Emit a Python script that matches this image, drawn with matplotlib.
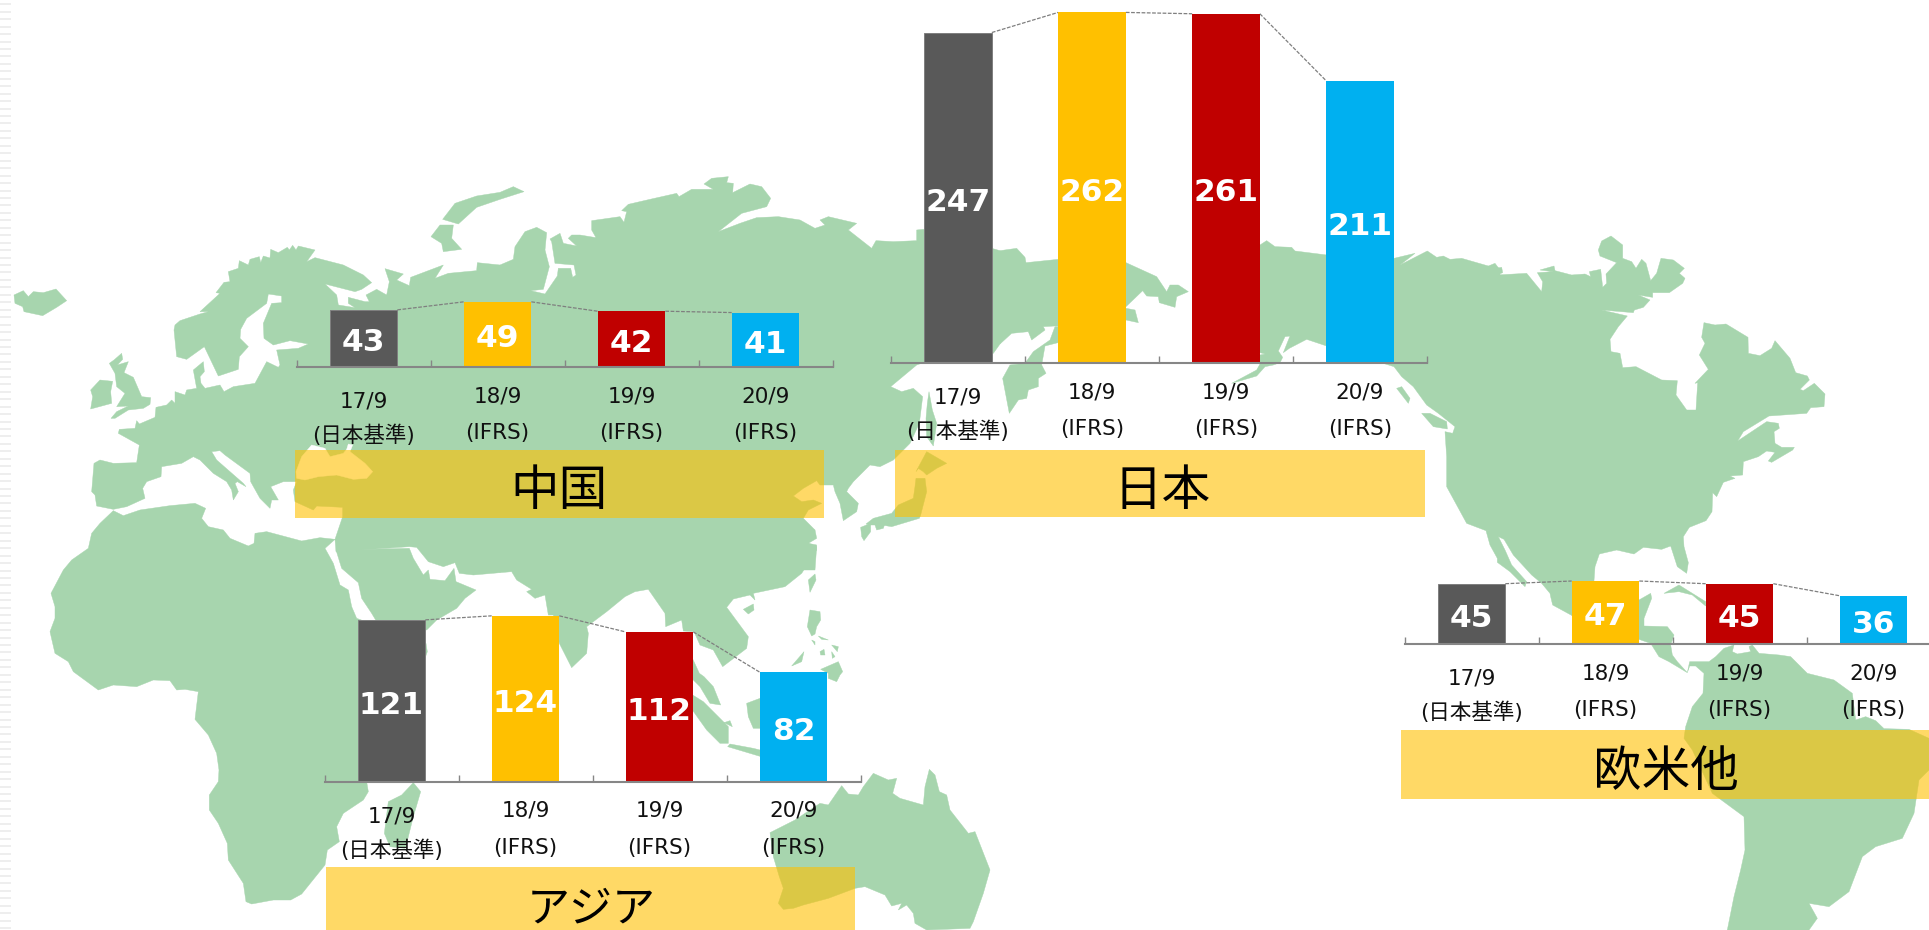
import matplotlib
matplotlib.use('Agg')
import matplotlib.pyplot as plt
import numpy as np
from matplotlib.patches import Rectangle

W, H = 1929, 930
LAND = '#A7D5AE'
BOX = (1.0, 0.753, 0.0, 0.6)
JP_FONT = ['DejaVu Sans', 'Noto Sans CJK JP']

# data
periods = ['17/9', '18/9', '19/9', '20/9']
standards = ['(日本基準)', '(IFRS)', '(IFRS)', '(IFRS)']
bar_colors = ['#595959', '#FFC000', '#C00000', '#00B0F0']

japan_values = [247, 262, 261, 211]
china_values = [43, 49, 42, 41]
asia_values = [121, 124, 112, 82]
other_values = [45, 47, 45, 36]

europe_south = [(522, 480), (530, 560), (560, 568), (613, 530), (655, 618), (715, 598), (718, 560), (745, 530),
                (720, 505), (722, 478), (740, 445), (800, 400), (805, 372), (845, 378), (845, 398), (815, 400),
                (790, 460), (792, 505), (820, 525), (870, 512), (925, 522), (895, 535), (830, 540), (840, 585),
                (835, 592), (800, 575), (765, 640), (700, 650), (672, 665), (660, 645), (615, 655), (603, 640),
                (600, 620), (613, 605), (610, 575), (580, 600), (590, 655), (560, 660), (555, 675), (525, 665),
                (525, 700), (515, 690), (500, 705), (468, 712), (465, 742), (418, 762), (410, 752), (405, 775),
                (358, 778), (355, 790), (418, 825), (410, 878), (340, 880), (300, 870), (282, 880), (275, 965),
                (285, 975), (290, 1008), (340, 1018), (380, 1010), (435, 985), (428, 955), (440, 935), (483, 920),
                (485, 890), (515, 885), (545, 880), (580, 860), (600, 870), (640, 910), (680, 935), (695, 960),
                (700, 990), (715, 965), (705, 940), (712, 935), (738, 950), (730, 940), (690, 905), (650, 870),
                (635, 845), (660, 842), (675, 855), (750, 910), (752, 935), (780, 985), (810, 1015), (815, 990),
                (835, 990), (812, 950), (850, 935), (890, 935), (880, 960), (885, 995), (940, 1020), (950, 1008),
                (1028, 1012), (1028, 1040), (1005, 1108), (1008, 1145), (1228, 1130), (1250, 1132), (1285, 1175),
                (1330, 1190), (1365, 1178), (1378, 1210), (1420, 1215), (1500, 1208)]
europe_north = [(525, 465), (540, 452), (600, 432), (625, 425), (600, 425), (660, 370), (648, 368), (672, 337),
                (690, 335), (685, 305), (715, 295), (718, 272), (745, 285), (750, 268), (778, 260), (782, 278),
                (790, 258), (810, 264), (812, 238), (835, 248), (862, 232), (868, 240), (878, 226), (888, 240),
                (895, 228), (945, 240), (920, 275), (945, 263), (1030, 285), (1090, 315), (1115, 338), (1085, 358),
                (1065, 365), (975, 342), (1010, 375), (1015, 405), (1065, 413), (1045, 400), (1045, 382), (1095, 395),
                (1108, 395), (1098, 375), (1130, 358), (1160, 375), (1168, 335), (1155, 296), (1210, 312), (1190, 330),
                (1228, 347), (1232, 322), (1330, 285), (1305, 325), (1345, 310), (1430, 302), (1432, 278), (1500, 285)]
black_sea = [(888, 905), (905, 860), (935, 825), (975, 835), (990, 860), (1030, 850), (1040, 838), (1045, 822),
             (1058, 825), (1050, 845), (1095, 880), (1118, 905), (1100, 925), (1060, 928), (1010, 915), (955, 920),
             (915, 930), (890, 925)]
crop_a = [
    [(42, 375), (70, 362), (85, 380), (100, 365), (130, 368), (168, 357), (200, 392), (170, 412), (128, 437),
     (72, 425), (68, 410), (45, 400)],
    [(342, 570), (365, 550), (368, 568), (352, 585), (385, 575), (372, 608), (400, 622), (425, 680), (452, 683),
     (450, 703), (430, 715), (385, 720), (345, 745), (333, 745), (350, 725), (385, 708), (350, 710), (375, 670),
     (350, 650), (345, 610), (328, 580)],
    [(272, 660), (300, 630), (338, 634), (332, 665), (335, 700), (272, 717), (278, 680)],
    [(1293, 200), (1320, 165), (1360, 165), (1355, 205), (1385, 238), (1330, 245), (1325, 220)],
    [(1328, 148), (1365, 100), (1430, 78), (1500, 67), (1540, 50), (1572, 65), (1500, 88), (1430, 112), (1375, 162)],
]
crop_b = [
    [(0, 285), (40, 268), (45, 230), (75, 185), (110, 172), (140, 188), (135, 240), (148, 290), (130, 358), (92, 362),
     (135, 372), (172, 318), (175, 295), (212, 295), (218, 322), (228, 315), (222, 285), (165, 280), (155, 215),
     (150, 207), (180, 190), (190, 220), (230, 228), (205, 205), (215, 195), (240, 195), (300, 205), (320, 225),
     (312, 245), (275, 180), (275, 152), (360, 140), (372, 157), (380, 125), (365, 122), (385, 103), (450, 88),
     (530, 70), (537, 80), (575, 58), (640, 58), (612, 42), (635, 25), (685, 20), (680, 38), (700, 40), (698, 68),
     (750, 42), (785, 50), (812, 85), (800, 110), (725, 130), (655, 185), (720, 160), (770, 143), (835, 140),
     (900, 150), (945, 175), (975, 165), (960, 150), (985, 140), (1070, 160), (1045, 180), (1115, 235), (1128, 212),
     (1180, 215), (1250, 212), (1250, 180), (1270, 178), (1500, 242), (1500, 522), (1480, 550), (1270, 578),
     (1250, 585), (1172, 650), (1205, 665), (1240, 655), (1268, 680), (1258, 760), (1230, 820), (1180, 870),
     (1140, 890), (1110, 885), (1060, 935), (1045, 955), (1040, 965), (1075, 1000), (1070, 1025), (1030, 1052),
     (1020, 1000), (1005, 965), (1000, 945), (972, 945), (960, 945), (950, 932), (910, 955), (880, 978), (905, 995),
     (940, 990), (965, 1000), (925, 1020), (910, 1045), (945, 1080), (950, 1105), (925, 1120), (950, 1130),
     (945, 1200), (0, 1200)],
    [(1287, 665), (1297, 720), (1310, 760), (1300, 828), (1280, 800), (1278, 745), (1282, 700)],
    [(1248, 905), (1280, 845), (1340, 880), (1310, 895), (1280, 915), (1270, 905), (1255, 895)],
    [(1248, 925), (1275, 925), (1280, 965), (1262, 1035), (1258, 1045), (1175, 1070), (1145, 1065), (1110, 1065),
     (1098, 1062), (1120, 1045), (1175, 1030), (1195, 1005), (1240, 985), (1245, 950)],
    [(1082, 1072), (1112, 1060), (1112, 1085), (1092, 1112), (1085, 1100)],
    [(1125, 1065), (1155, 1060), (1150, 1075), (1130, 1080)],
]
crop_c = [
    [(0, 242), (50, 235), (75, 262), (78, 278), (175, 268), (378, 278), (470, 320), (500, 365), (510, 345), (535, 345),
     (565, 365), (530, 380), (525, 412), (478, 398), (475, 380), (440, 378), (428, 362), (378, 410), (300, 470),
     (165, 468), (130, 470), (135, 480), (95, 510), (85, 485), (35, 490), (0, 522)],
    [(360, 430), (378, 415), (405, 420), (415, 458), (378, 450)],
    [(174, 470), (165, 470), (150, 510), (100, 545), (75, 580), (30, 585), (8, 625), (28, 730), (55, 690), (80, 685),
     (85, 660), (115, 650), (115, 625), (138, 610), (125, 585), (135, 528), (174, 518)],
    [(760, 230), (780, 225), (800, 212), (825, 230), (875, 232), (885, 243), (980, 255), (1182, 265), (1245, 250),
     (1200, 285), (1282, 243), (1310, 262), (1330, 258), (1350, 268), (1385, 265), (1465, 288), (1485, 280),
     (1500, 300), (1500, 1082), (1458, 1082), (1400, 1060), (1340, 950), (1340, 860), (1335, 785), (1358, 790),
     (1365, 770), (1315, 730), (1280, 705), (1240, 650), (1205, 620), (1182, 590), (980, 528), (920, 508), (868, 535),
     (850, 548), (870, 498), (855, 500), (835, 543), (848, 562), (840, 578), (820, 585), (795, 590), (770, 618),
     (695, 640), (770, 600), (780, 582), (780, 555), (795, 552), (780, 548), (760, 540)],
    [(1265, 730), (1290, 730), (1340, 755), (1342, 777), (1300, 770)],
    [(1190, 655), (1205, 650), (1230, 685), (1225, 700)],
]
crop_d = [
    [(285, 55), (305, 52), (308, 68), (290, 75), (380, 70), (425, 125), (428, 95), (412, 68), (460, 65), (420, 60),
     (462, 48), (465, 62), (515, 75), (555, 72), (572, 80), (568, 65), (602, 58), (608, 112), (620, 100), (618, 72),
     (650, 38), (600, 18), (595, 0), (605, -27), (633, -42), (668, -15), (668, 25), (695, 35), (708, 55), (725, 28),
     (738, 40), (752, 92), (770, 70), (783, 25), (820, 30), (853, 55), (838, 70), (855, 85), (848, 100), (808, 128),
     (758, 128), (758, 142), (715, 135), (750, 150), (730, 172), (703, 180), (700, 188), (605, 180), (682, 198),
     (655, 230), (630, 268), (633, 305), (660, 310), (668, 353), (708, 350), (785, 390), (832, 392), (828, 435),
     (860, 480), (888, 480), (893, 398), (885, 400), (925, 358), (898, 315), (915, 280), (905, 262), (912, 218),
     (945, 225), (978, 222), (1044, 262), (1045, 310), (1080, 317), (1115, 295), (1125, 272), (1170, 325), (1187, 368),
     (1222, 378), (1228, 390), (1200, 418), (1210, 422), (1243, 400), (1275, 432), (1272, 470), (1232, 473),
     (1220, 490), (1107, 498), (1030, 545), (1013, 573), (1100, 515), (1135, 520), (1138, 535), (1122, 545),
     (1125, 580), (1145, 592), (1183, 592), (1178, 600), (1115, 637), (1105, 633), (1125, 607), (1100, 603),
     (1075, 620), (1030, 635), (1028, 675), (990, 678), (1005, 685), (970, 697), (950, 740), (938, 728), (936, 785),
     (918, 812), (868, 832), (850, 860), (852, 890), (865, 938), (860, 970), (832, 950), (812, 888), (785, 898),
     (730, 892), (702, 912), (650, 900), (598, 912), (585, 950), (582, 992), (520, 1100), (513, 1095), (458, 1065),
     (452, 1040), (450, 1030), (425, 1000), (395, 975), (340, 915), (312, 868), (295, 860), (285, 842)],
    [(258, 842), (270, 885), (292, 925), (292, 937), (330, 965), (375, 1010), (380, 995), (335, 945), (315, 900),
     (295, 860), (290, 838)],
    [(792, 1030), (837, 1005), (917, 1055), (917, 1068), (877, 1035), (837, 1025)],
]
crop_e = [
    [(190, 120), (215, 90), (265, 55), (275, 10), (300, -20), (340, -58), (370, -43), (420, -60), (510, -73),
     (585, -80), (617, -65), (605, -35), (625, -10), (670, 0), (690, 25), (745, 48), (762, 40), (765, 10), (800, 5),
     (905, 33), (960, 23), (1005, 28), (975, 55), (1000, 100), (1020, 165), (1045, 180), (1055, 230), (1070, 265),
     (1278, 340), (1282, 365), (1275, 385), (1270, 600), (1100, 755), (1105, 785), (1090, 810), (1030, 850),
     (1010, 890), (1018, 935), (982, 960), (975, 1005), (905, 1092), (872, 1110), (820, 1110), (755, 1122), (738, 1115),
     (730, 1060), (685, 990), (682, 940), (655, 880), (628, 840), (628, 795), (655, 755), (657, 720), (650, 670),
     (625, 615), (585, 568), (595, 485), (555, 478), (530, 480), (510, 452), (460, 450), (410, 470), (340, 465),
     (295, 480), (220, 425), (205, 395), (165, 370), (150, 305), (165, 265), (165, 230), (153, 190)],
    [(1008, 60), (1025, 115), (1075, 158), (1085, 205), (1115, 250), (1130, 275), (1280, 300), (1310, 270), (1370, 235),
     (1395, 205), (1428, 180), (1368, 155), (1362, 115), (1335, 152), (1290, 148), (1285, 120), (1270, 135),
     (1240, 85), (1228, 55)],
    [(1240, 758), (1262, 785), (1240, 860), (1220, 940), (1215, 955), (1170, 950), (1153, 910), (1165, 815), (1205, 795)],
]
crop_f = [
    [(0, 0), (945, 0), (925, 40), (950, 45), (950, 60), (905, 130), (855, 170), (760, 190), (765, 210), (750, 195),
     (700, 207), (680, 232), (745, 320), (740, 355), (668, 410), (640, 360), (600, 345), (582, 305), (550, 303),
     (545, 270), (497, 290), (495, 250), (445, 178), (405, 185), (375, 200), (320, 245), (260, 290), (265, 310),
     (260, 370), (215, 413), (178, 340), (160, 255), (145, 255), (135, 195), (105, 205), (80, 185), (95, 178),
     (50, 150), (35, 125), (0, 128)],
    [(560, 350), (582, 395), (598, 430), (612, 440), (640, 470), (662, 525), (630, 520), (600, 470), (570, 440)],
    [(730, 238), (760, 222), (762, 240), (745, 252)],
    [(925, 150), (945, 132), (948, 150), (930, 187)],
    [(930, 240), (960, 245), (962, 270), (950, 290), (945, 312), (935, 318), (922, 290)],
    [(935, 330), (945, 335), (945, 345)],
    [(955, 318), (985, 330), (965, 328)],
    [(960, 365), (972, 358), (975, 375), (962, 375)],
    [(995, 345), (1015, 350), (1012, 365)],
    [(995, 365), (1005, 380), (997, 385)],
    [(962, 418), (1015, 395), (1028, 425), (1020, 435), (1010, 455), (985, 445), (985, 430)],
    [(875, 408), (912, 365), (905, 395)],
    [(740, 520), (780, 505), (800, 595), (760, 595), (745, 560)],
    [(570, 490), (610, 515), (650, 555), (685, 590), (685, 640), (660, 640), (620, 600), (570, 530)],
    [(672, 578), (690, 572), (697, 590)],
    [(683, 650), (690, 642), (760, 655), (800, 665), (800, 685)],
    [(810, 908), (885, 870), (960, 820), (985, 825), (1025, 767), (1045, 792), (1075, 795), (1090, 770), (1120, 730),
     (1165, 750), (1190, 745), (1178, 790), (1200, 805), (1270, 825), (1275, 770), (1288, 718), (1305, 735),
     (1318, 785), (1340, 795), (1350, 840), (1405, 910), (1425, 905), (1470, 1020), (1450, 1090), (1420, 1175),
     (1410, 1195), (1280, 1200), (1245, 1180), (1240, 1150), (1220, 1125), (1195, 1140), (1205, 1120), (1175, 1128),
     (1155, 1095), (1095, 1070), (1065, 1075), (985, 1105), (910, 1125), (880, 1135), (850, 1138), (835, 1120),
     (850, 1075), (838, 1040), (820, 980)],
]
crop_g = [
    [(440, 200), (630, 210), (665, 190), (668, 205), (645, 265), (645, 288), (715, 290), (735, 315), (725, 345),
     (730, 375), (745, 395), (775, 428), (720, 395), (690, 380), (665, 340), (430, 260)],
    [(775, 428), (782, 395), (840, 395), (860, 380), (885, 355), (915, 345), (910, 365), (925, 372), (965, 365),
     (960, 350), (970, 345), (990, 370), (1050, 375), (1085, 380), (1135, 430), (1215, 450), (1270, 490), (1280, 570),
     (1310, 560), (1340, 572), (1365, 596), (1440, 598), (1500, 625), (1500, 720), (1470, 750), (1455, 850),
     (1420, 925), (1340, 950), (1300, 980), (1260, 1085), (1200, 1130), (1140, 1120), (1165, 1165), (1140, 1200),
     (895, 1200), (915, 1100), (935, 1020), (948, 960), (945, 860), (850, 790), (790, 660), (765, 625), (770, 590),
     (790, 530), (822, 490), (825, 430), (800, 408), (782, 408)],
]

fig = plt.figure(figsize=(W / 100, H / 100), dpi=100)
bg = fig.add_axes([0, 0, 1, 1])
bg.set_xlim(0, W)
bg.set_ylim(H, 0)
bg.axis('off')


def draw_land(x0, y0, polygons, color=LAND, zorder=1):
    for pts in polygons:
        arr = np.array(pts, dtype=float)
        bg.fill(x0 + arr[:, 0] / 3, y0 + arr[:, 1] / 3, facecolor=color, edgecolor=color, linewidth=0.3, zorder=zorder)


# pale stripes down the left edge of the slide
bg.hlines(np.arange(4.3, H, 7.45), 0, 11, color='#E9E9E9', linewidth=1.1, zorder=0)

draw_land(0, 170, [europe_south + [(1500, 285)] + europe_north[::-1]])
draw_land(0, 170, crop_a)
draw_land(500, 170, crop_b)
draw_land(1000, 170, crop_c)
draw_land(1400, 250, crop_d)
draw_land(0, 530, crop_e)
draw_land(500, 530, crop_f)
draw_land(1429, 530, crop_g)
draw_land(0, 170, [black_sea], color='white', zorder=2)

# region name bands
bands = [('中国', 295, 449.5, 529, 68, 559, 491, 35),
         ('日本', 895, 449.5, 530, 67.5, 1162, 491, 35),
         ('アジア', 326, 867, 529, 70, 591, 909, 31),
         ('欧米他', 1401, 730, 540, 69, 1666, 772, 35)]
for name, x, y, w, h, tx, ty, size in bands:
    bg.add_patch(Rectangle((x, y), w, h, facecolor=BOX, edgecolor='none', zorder=3))
    bg.text(tx, ty, name, fontsize=size, family='Noto Sans CJK JP', ha='center', va='center', color='black', zorder=4)


def draw_chart(values, left, baseline):
    # band width 134 px and 1.34 px per unit, same scale for all four regions
    ax = fig.add_axes([left / W, 1 - baseline / H, 536 / W, 270 * 1.34 / H])
    ax.patch.set_alpha(0)
    x = np.arange(len(values))
    bar_w = 0.505
    bars = ax.bar(x, values, width=bar_w, color=bar_colors, zorder=2)
    bars[0].set_edgecolor('#7F7F7F')
    bars[0].set_linewidth(0.7)
    for i in range(len(values) - 1):
        ax.plot([i + bar_w / 2, i + 1 - bar_w / 2], [values[i], values[i + 1]], color='#7F7F7F',
                linewidth=0.9, linestyle=(0, (3, 1.2)), zorder=1)
    ax.set_xlim(-0.5, 3.5)
    ax.set_ylim(0, 270)
    ax.set_xticks(np.arange(-0.5, 4, 1))
    ax.set_xticklabels([])
    ax.set_yticks([])
    ax.tick_params(axis='x', direction='in', length=5, width=1, color='#868686')
    for side in ['top', 'left', 'right']:
        ax.spines[side].set_visible(False)
    ax.spines['bottom'].set_color('#868686')
    ax.spines['bottom'].set_linewidth(1.5)
    for i, v in enumerate(values):
        ax.annotate(str(v), xy=(i, v / 2), xytext=(0, -3), textcoords='offset points', color='white',
                    fontsize=22.5, fontweight='bold', ha='center', va='center', annotation_clip=False, zorder=3)
        # the first label sits a little lower than the others
        off1, off2 = (34, 68) if i == 0 else (29, 66)
        ax.annotate(periods[i], xy=(i, 0), xytext=(0, -off1 * 0.72), textcoords='offset points', fontsize=15.5,
                    family=JP_FONT, ha='center', va='center', color='#111111', annotation_clip=False)
        ax.annotate(standards[i], xy=(i, 0), xytext=(0, -off2 * 0.72), textcoords='offset points', fontsize=15.5,
                    family=JP_FONT, ha='center', va='center', color='#111111', annotation_clip=False)


draw_chart(japan_values, 891, 363.5)
draw_chart(china_values, 296.5, 367.5)
draw_chart(asia_values, 324.5, 782)
draw_chart(other_values, 1404.5, 644)

fig.savefig('out.png', dpi=100)
